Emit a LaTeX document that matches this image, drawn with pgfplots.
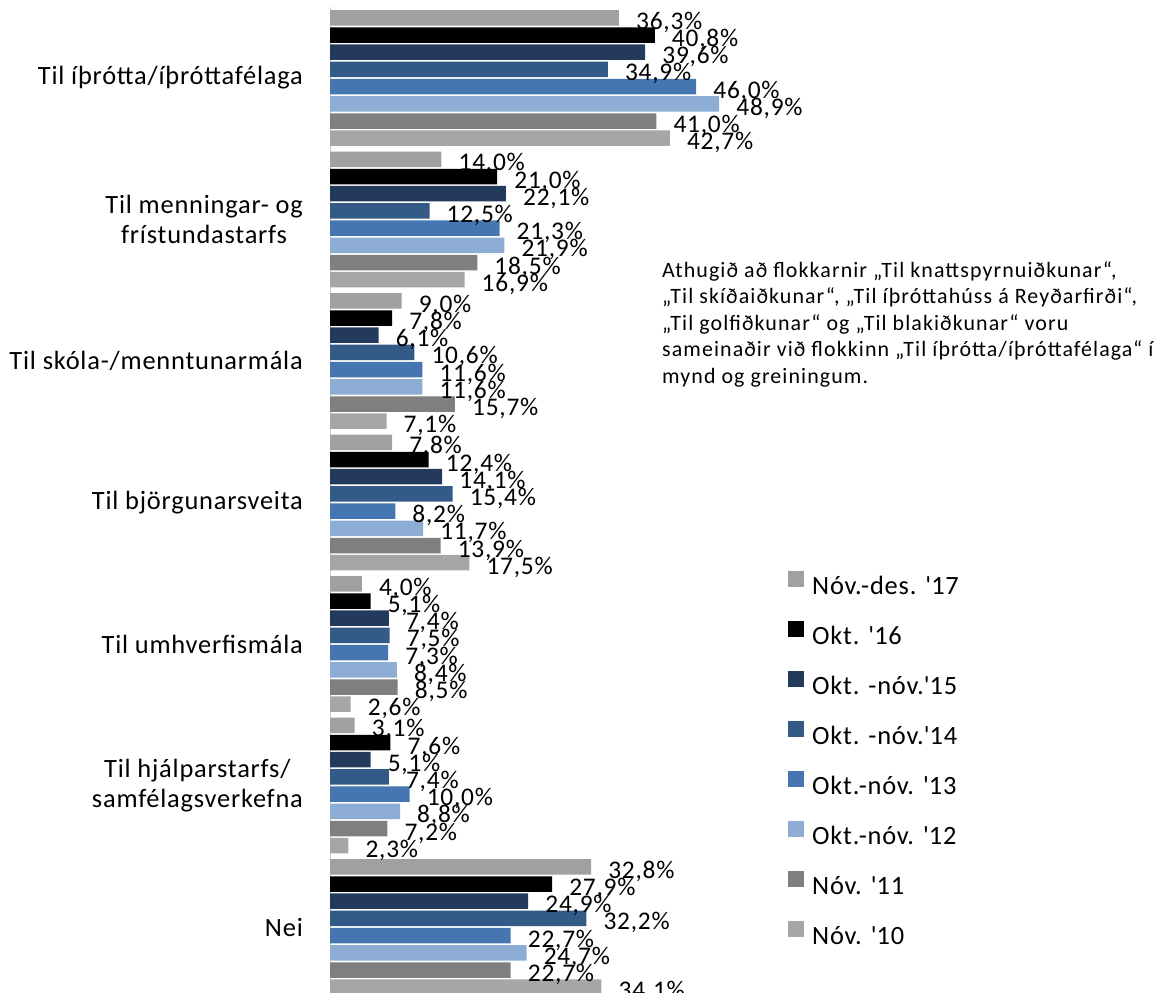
\documentclass[border=0pt]{standalone}
\usepackage{fontspec}
\setmainfont{Carlito}
\newfontfamily\lblfont{Carlito}[LetterSpace=3]
\newfontfamily\notefont{Carlito}[LetterSpace=5]
\usepackage{pgfplots}
\usepackage{pgfplotstable}
\pgfplotsset{compat=1.18}

\definecolor{cA}{HTML}{A0A0A0}
\definecolor{cB}{HTML}{000000}
\definecolor{cC}{HTML}{243A5C}
\definecolor{cD}{HTML}{345A88}
\definecolor{cE}{HTML}{4676B1}
\definecolor{cF}{HTML}{8DADD5}
\definecolor{cG}{HTML}{7F7F7F}
\definecolor{cH}{HTML}{A6A6A6}

\pgfplotstableread{
cat s17 s16 s15 s14 s13 s12 s11 s10
0 36.3 40.8 39.6 34.9 46.0 48.9 41.0 42.7
1 14.0 21.0 22.1 12.5 21.3 21.9 18.5 16.9
2 9.0 7.8 6.1 10.6 11.6 11.6 15.7 7.1
3 7.8 12.4 14.1 15.4 8.2 11.7 13.9 17.5
4 4.0 5.1 7.4 7.5 7.3 8.4 8.5 2.6
5 3.1 7.6 5.1 7.4 10.0 8.8 7.2 2.3
6 32.8 27.9 24.9 32.2 22.7 24.7 22.7 34.1
}\datatable

\begin{document}
\begin{tikzpicture}
\useasboundingbox (0,0) rectangle (1155bp,-993bp);
\begin{axis}[
  at={(330bp,-7.25bp)}, anchor=north west,
  x=7.96bp, y=141.5bp,
  xmin=0, xmax=58,
  ymin=-0.5, ymax=6.5,
  y dir=reverse,
  axis x line=none,
  axis y line*=left,
  y axis line style={draw=black!18, line width=0.75bp},
  xbar, bar width=15.5bp,
  xtick=\empty,
  ytick={0,...,6},
  yticklabels={{Til íþrótta/íþróttafélaga},{Til menningar- og\\frístundastarfs},{Til skóla-/menntunarmála},{Til björgunarsveita},{Til umhverfismála},{Til hjálparstarfs/\\samfélagsverkefna},{Nei}},
  major tick length=0pt,
  yticklabel style={anchor=east, align=center, inner sep=0pt, xshift=-27bp, font=\lblfont\fontsize{26.5}{30}\selectfont},
  clip=false,
  point meta=x,
  nodes near coords={\pgfmathprintnumber[fixed,fixed zerofill,precision=1,use comma,assume math mode=true]{\pgfplotspointmeta}\%},
  every node near coord/.append style={anchor=base west, inner sep=0pt, xshift=17bp, yshift=-11.5bp, font=\lblfont\fontsize{25.5}{30}\selectfont, text=black},
  legend cell align=left,
  legend image code/.code={\fill[#1] (0bp,0bp) rectangle (16bp,16bp);},
  legend style={at={(axis cs:57.54,3.483)}, anchor=north west, draw=none, fill=none, inner sep=0pt,
    row sep=23bp, font=\lblfont\fontsize{26.5}{30}\selectfont,
    nodes={inner sep=0pt, text height=18bp, text depth=4bp},
    /tikz/every odd column/.append style={column sep=8bp}},
]
\addplot[fill=cA, draw=none, bar shift=60.2bp] table[x=s17, y=cat] {\datatable};
\addlegendentry{Nóv.-des. \textquotesingle 17}
\addplot[fill=cB, draw=none, bar shift=43bp] table[x=s16, y=cat] {\datatable};
\addlegendentry{Okt. \textquotesingle 16}
\addplot[fill=cC, draw=none, bar shift=25.8bp] table[x=s15, y=cat] {\datatable};
\addlegendentry{Okt. -nóv.\textquotesingle 15}
\addplot[fill=cD, draw=none, bar shift=8.6bp] table[x=s14, y=cat] {\datatable};
\addlegendentry{Okt. -nóv.\textquotesingle 14}
\addplot[fill=cE, draw=none, bar shift=-8.6bp] table[x=s13, y=cat] {\datatable};
\addlegendentry{Okt.-nóv. \textquotesingle 13}
\addplot[fill=cF, draw=none, bar shift=-25.8bp] table[x=s12, y=cat] {\datatable};
\addlegendentry{Okt.-nóv. \textquotesingle 12}
\addplot[fill=cG, draw=none, bar shift=-43bp] table[x=s11, y=cat] {\datatable};
\addlegendentry{Nóv. \textquotesingle 11}
\addplot[fill=cH, draw=none, bar shift=-60.2bp] table[x=s10, y=cat] {\datatable};
\addlegendentry{Nóv. \textquotesingle 10}
\end{axis}
\node[anchor=north west, align=left, inner sep=0pt, font=\notefont\fontsize{22}{26.6}\selectfont] at (662bp,-261bp)
{Athugið að flokkarnir „Til knattspyrnuiðkunar“,\\
„Til skíðaiðkunar“, „Til íþróttahúss á Reyðarfirði“,\\
„Til golfiðkunar“ og „Til blakiðkunar“ voru\\
sameinaðir við flokkinn „Til íþrótta/íþróttafélaga“ í\\
mynd og greiningum.};
\end{tikzpicture}
\end{document}
